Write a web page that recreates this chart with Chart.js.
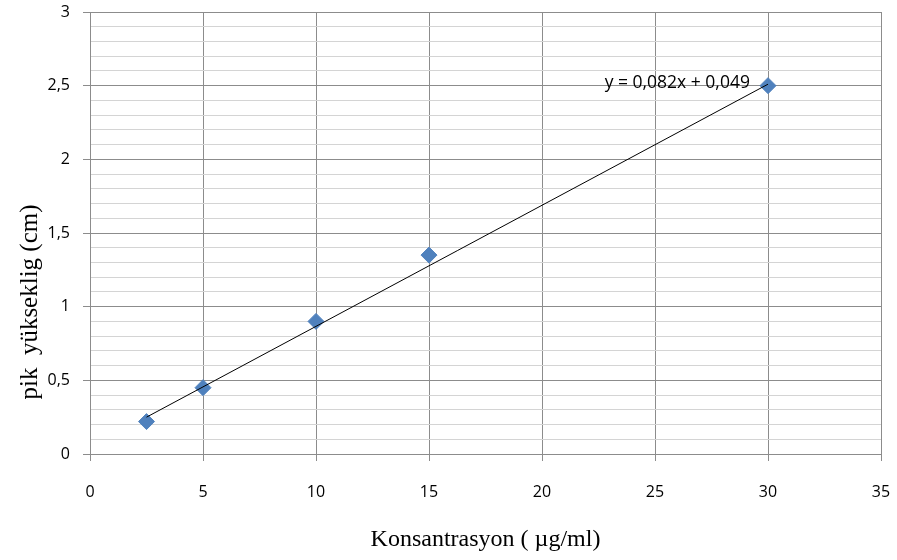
<!DOCTYPE html>
<html>
<head>
<meta charset="utf-8">
<script src="https://cdn.jsdelivr.net/npm/chart.js@4/dist/chart.umd.min.js"></script>
<style>
  html, body { margin: 0; padding: 0; background: #fff; }
  #wrap { width: 897px; height: 560px; }
</style>
</head>
<body>
<div id="wrap"><canvas id="calChart" width="897" height="560"></canvas></div>
<script>
// measured points
var concentrations = [2.5, 5, 10, 15, 30];
var peakHeights = [0.22, 0.45, 0.9, 1.35, 2.5];
// trend line ends (y = 0,082x + 0,049)
var trendX = [2.5, 30];
var trendY = [0.25, 2.51];
var equationText = 'y = 0,082x + 0,049';

var tickFont = { family: "'Open Sans', 'Liberation Sans', sans-serif", size: 16 };

function isMajor(v) {
    return Math.abs(v * 2 - Math.round(v * 2)) < 1e-6;
}

// y-axis title and trend equation drawn at fixed spots
var labelsPlugin = {
    id: 'labelsPlugin',
    afterDraw: function(chart) {
        var ctx = chart.ctx;
        var xs = chart.scales.x, ys = chart.scales.y;
        ctx.save();
        ctx.fillStyle = '#000';
        ctx.font = "25px 'Liberation Serif', serif";
        ctx.translate(30, 302);
        ctx.rotate(-Math.PI / 2);
        ctx.textAlign = 'center';
        ctx.textBaseline = 'middle';
        ctx.fillText('pik  yükseklig (cm)', 0, 0);
        ctx.restore();

        ctx.save();
        ctx.fillStyle = '#000';
        ctx.font = "17.5px 'Open Sans', 'Liberation Sans', sans-serif";
        ctx.textAlign = 'right';
        ctx.textBaseline = 'middle';
        ctx.fillText(equationText, xs.getPixelForValue(29.2), ys.getPixelForValue(2.515));
        ctx.restore();
    }
};

var ctx = document.getElementById('calChart');
new Chart(ctx, {
    type: 'scatter',
    data: {
        datasets: [{
            type: 'line',
            data: trendX.map(function(x, i) { return { x: x, y: trendY[i] }; }),
            borderColor: '#000',
            borderWidth: 1,
            pointRadius: 0,
            fill: false
        }, {
            data: concentrations.map(function(x, i) { return { x: x, y: peakHeights[i] }; }),
            pointStyle: 'rectRot',
            pointRadius: 8,
            backgroundColor: '#4f81bd',
            borderColor: '#4f81bd',
            borderWidth: 1
        }]
    },
    options: {
        responsive: false,
        maintainAspectRatio: false,
        animation: false,
        layout: { padding: { left: 0, right: 16, top: 12, bottom: 0 } },
        plugins: {
            legend: { display: false },
            tooltip: { enabled: false }
        },
        scales: {
            x: {
                type: 'linear',
                min: 0,
                max: 35,
                ticks: { stepSize: 5, color: '#000', font: tickFont, padding: 22, maxRotation: 0 },
                grid: { color: '#8c8c8c', lineWidth: 1, tickLength: 7, tickColor: '#8c8c8c' },
                border: { color: '#8c8c8c' },
                title: {
                    display: true,
                    text: 'Konsantrasyon ( µg/ml)',
                    color: '#000',
                    font: { family: "'Liberation Serif', serif", size: 24 },
                    padding: { top: 18, bottom: 6 }
                },
                afterFit: function(scale) {
                    scale.height = 560 - 454;
                    scale.paddingLeft = 0;
                    scale.paddingRight = 0;
                }
            },
            y: {
                min: 0,
                max: 3,
                ticks: {
                    stepSize: 0.1,
                    color: '#000',
                    font: tickFont,
                    padding: 13,
                    autoSkip: false,
                    callback: function(v) {
                        return isMajor(v) ? String(Math.round(v * 10) / 10).replace('.', ',') : '';
                    }
                },
                grid: {
                    lineWidth: 1,
                    tickLength: 7,
                    color: function(c) { return isMajor(c.tick.value) ? '#8c8c8c' : '#d4d4d4'; },
                    tickColor: function(c) { return isMajor(c.tick.value) ? '#8c8c8c' : 'rgba(0,0,0,0)'; }
                },
                border: { color: '#8c8c8c' },
                afterFit: function(scale) {
                    scale.width = 90;
                    scale.paddingTop = 0;
                    scale.paddingBottom = 0;
                }
            }
        }
    },
    plugins: [labelsPlugin]
});
</script>
</body>
</html>
